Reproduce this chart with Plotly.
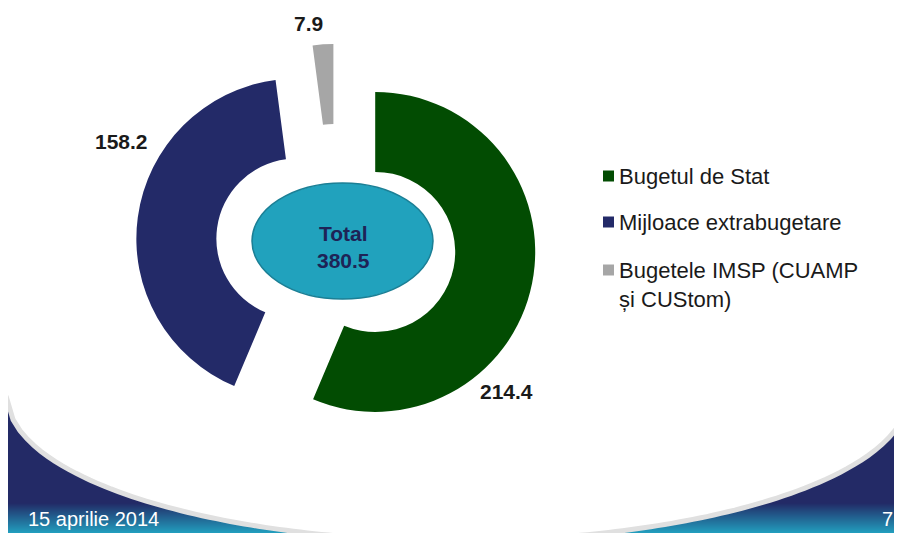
import numpy as np
import plotly.graph_objects as go

# ---- data ----
categories = ["Bugetul de Stat", "Mijloace extrabugetare", "Bugetele IMSP (CUAMP<br>și CUStom)"]
values = [214.4, 158.2, 7.9]
colors = ["#024c02", "#232a68", "#a6a6a6"]
total_label = "Total"
date_text = "15 aprilie 2014"
page_text = "7"

OFF = 8  # page body margin
W, H = 902, 533 - OFF

def px(x):
    return (x - OFF) / W

def py(y):
    return 1 - (y - OFF) / H

fig = go.Figure()
fig.add_trace(go.Pie(
    values=values,
    labels=categories,
    marker=dict(colors=colors, line=dict(width=0)),
    hole=0.5,
    pull=[0.25, 0.25, 0.25],
    sort=False,
    direction="clockwise",
    rotation=0,
    textinfo="none",
    hoverinfo="label+value",
    showlegend=False,
    domain=dict(x=[px(136), px(536)], y=[py(444), py(44)]),
))

shapes = []
# --- background decoration ---
shapes.append(dict(type="rect", xref="paper", yref="paper", layer="below",
                   x0=0, x1=1, y0=0, y1=py(390), fillcolor="#232a66", line=dict(width=0)))
navy = np.array([0x23, 0x2a, 0x66])
teal = np.array([0x22, 0x9f, 0xbf])
y_start, y_end = 503, 533
n = y_end - y_start
for i in range(n):
    t = (i + 0.5) / n
    c = navy + (teal - navy) * t
    shapes.append(dict(type="rect", xref="paper", yref="paper", layer="below",
                       x0=0, x1=1, y0=py(y_start + i + 1.2), y1=py(y_start + i),
                       fillcolor="rgb(%d,%d,%d)" % tuple(c.astype(int)), line=dict(width=0)))

cx, cy, b = 455.0, 396.0, 145.0
xs = np.linspace(910, 6, 130)
pts = []
for x in xs:
    a = 453.0 if x > cx else 448.0
    r = max(0.0, 1 - ((x - cx) / a) ** 2)
    pts.append((x, cy + b * np.sqrt(r)))
curve = " L ".join("%.4f,%.4f" % (px(x), py(y)) for x, y in pts)
white_path = "M %.4f,1 L %.4f,1 L " % (px(0), px(912)) + curve + " L %.4f,%.4f Z" % (px(0), py(402))
shapes.append(dict(type="path", xref="paper", yref="paper", layer="below",
                   path=white_path, fillcolor="white", line=dict(width=0)))
shapes.append(dict(type="path", xref="paper", yref="paper", layer="below",
                   path="M " + curve, fillcolor="rgba(0,0,0,0)",
                   line=dict(color="#e0e0e0", width=5)))

# --- centre ellipse ---
shapes.append(dict(type="circle", xref="paper", yref="paper",
                   x0=px(252), x1=px(433), y0=py(299), y1=py(183),
                   fillcolor="#21a2bd", line=dict(color="#1b7f95", width=1.5)))

# --- legend ---
leg_y = [176, 222, 270]
for yc, col in zip(leg_y, colors):
    shapes.append(dict(type="rect", xref="paper", yref="paper",
                       x0=px(603), x1=px(614), y0=py(yc + 5.5), y1=py(yc - 5.5),
                       fillcolor=col, line=dict(width=0)))

annotations = []
for yc, lab in zip(leg_y, categories):
    annotations.append(dict(xref="paper", yref="paper", x=px(617), y=py(yc - 14),
                            xanchor="left", yanchor="top", align="left",
                            text=lab, showarrow=False,
                            font=dict(family="Liberation Sans, Arial", size=22, color="#1a1a1a")))

label_pos = [(506, 391), (121, 141), (308, 23)]
for (lx, ly), v in zip(label_pos, values):
    annotations.append(dict(xref="paper", yref="paper", x=px(lx), y=py(ly),
                            xanchor="center", yanchor="middle",
                            text="<b>%.1f</b>" % v, showarrow=False,
                            font=dict(family="Liberation Sans, Arial", size=21, color="#1a1a1a")))

annotations.append(dict(xref="paper", yref="paper", x=px(343), y=py(247),
                        xanchor="center", yanchor="middle",
                        text="<b>%s<br>%.1f</b>" % (total_label, sum(values)), showarrow=False,
                        font=dict(family="Liberation Sans, Arial", size=21, color="#1e2356")))

annotations.append(dict(xref="paper", yref="paper", x=px(26), y=py(519), xanchor="left",
                        yanchor="middle",
                        text=date_text, showarrow=False,
                        font=dict(family="Liberation Sans, Arial", size=20, color="white")))
annotations.append(dict(xref="paper", yref="paper", x=px(895), y=py(519), xanchor="right",
                        yanchor="middle",
                        text=page_text, showarrow=False,
                        font=dict(family="Liberation Sans, Arial", size=20, color="white")))

fig.update_layout(
    width=W, height=H,
    margin=dict(l=0, r=0, t=0, b=0, autoexpand=False),
    paper_bgcolor="white",
    plot_bgcolor="white",
    shapes=shapes,
    annotations=annotations,
    showlegend=False,
)

fig.write_html("out.html")
